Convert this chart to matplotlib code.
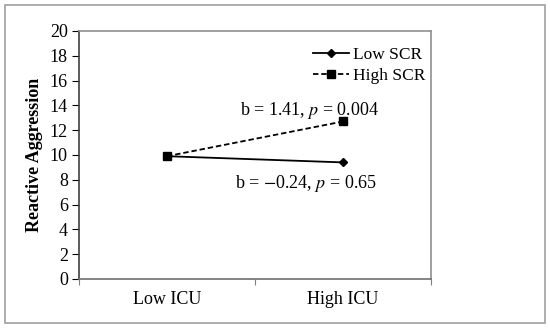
import matplotlib
matplotlib.use("Agg")
import matplotlib.pyplot as plt
from matplotlib.patches import Rectangle

plt.rcParams['font.family'] = ['Liberation Serif', 'DejaVu Serif']
plt.rcParams['mathtext.fontset'] = 'stix'

categories = ['Low ICU', 'High ICU']
low_scr = [9.9, 9.4]
high_scr = [9.9, 12.7]
yticks = [0, 2, 4, 6, 8, 10, 12, 14, 16, 18, 20]

fig = plt.figure(figsize=(5.5, 3.29), dpi=100)
fig.patches.append(Rectangle((0.009, 0.018), 0.981, 0.966, transform=fig.transFigure,
                             fill=False, edgecolor='#a0a0a0', linewidth=1.2))
ax = fig.add_axes([0.1436, 0.152, 0.64, 0.754])

xpos = [0.5, 1.5]
ax.plot(xpos, low_scr, color='black', lw=1.3, marker='D', ms=4.5, label='Low SCR')
ax.plot(xpos, high_scr, color='black', lw=1.3, ls=(0, (3, 1.6)), marker='s', ms=5.5,
        label='High SCR')

ax.set_xlim(0, 2)
ax.set_ylim(0, 20)
ax.set_yticks(yticks)
ax.set_xticks([0, 1, 2])
ax.set_xticklabels([])
ax.set_xticks(xpos, minor=True)
ax.set_xticklabels(categories, minor=True)
ax.tick_params(axis='x', which='minor', length=0, pad=9, labelsize=13)
ax.tick_params(axis='x', which='major', direction='out', length=4, color='#808080')
ax.tick_params(axis='y', direction='out', length=5, labelsize=13, pad=3)

for side in ['top', 'right']:
    ax.spines[side].set_color('#909090')
ax.spines['bottom'].set_color('#707070')
ax.spines['left'].set_color('#404040')
for s in ax.spines.values():
    s.set_linewidth(1.2)

ax.set_ylabel('Reactive Aggression', fontsize=13, fontweight='bold', labelpad=5)

ax.text(1.31, 13.6, r'b = 1.41, $p$ = 0.004', fontsize=13, ha='center', va='center')
ax.text(1.29, 7.7, r'b = $-$0.24, $p$ = 0.65', fontsize=13, ha='center', va='center')

ax.legend(loc='upper left', bbox_to_anchor=(0.645, 0.962), frameon=False, fontsize=12.5,
          handlelength=2.1, handletextpad=0.2, labelspacing=0.25, borderaxespad=0)

fig.savefig('out.png', dpi=100)
